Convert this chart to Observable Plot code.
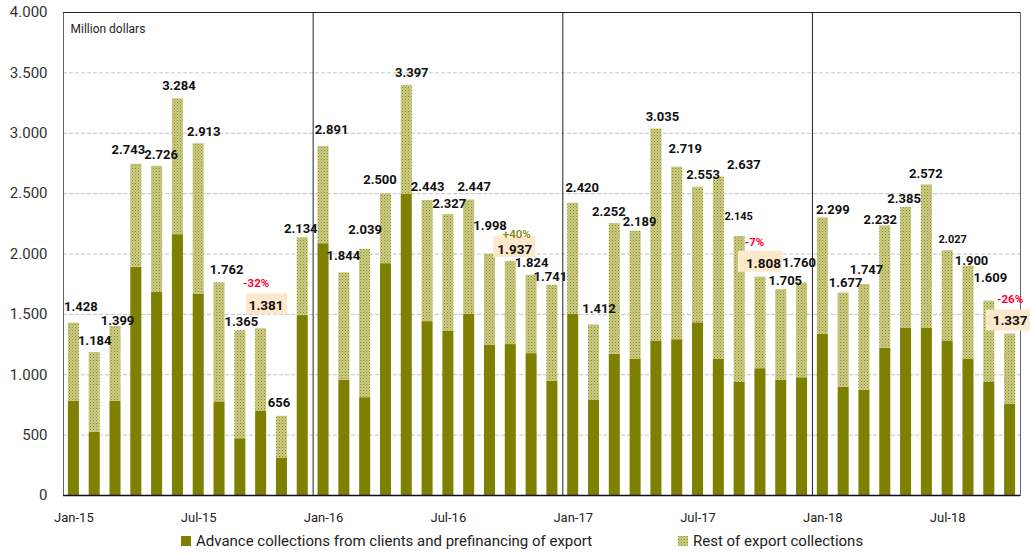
<!DOCTYPE html>
<html>
<head>
<meta charset="utf-8">
<script src="https://cdn.jsdelivr.net/npm/d3@7"></script>
<script src="https://cdn.jsdelivr.net/npm/@observablehq/plot@0.6"></script>
<style>
  html, body { margin: 0; padding: 0; background: #fff; }
  #wrap { position: relative; width: 1030px; height: 555px; font-family: Roboto, sans-serif; }
  #chart svg g[aria-label^="y-axis"] { font-size: 15px; fill: #333; }
  #chart svg g[aria-label^="x-axis"] { font-size: 13px; fill: #222; }
  .legend { position: absolute; top: 530px; left: 0; width: 1030px; height: 25px; font-size: 15px; color: #222; }
  .legend .item { position: absolute; top: 2px; display: flex; align-items: center; white-space: nowrap; }
  .legend .sw { width: 10px; height: 10px; margin-right: 5px; }
</style>
</head>
<body>
<div id="wrap">
  <div id="chart"></div>
  <div class="legend" id="legend"></div>
</div>
<script>
// Monthly export collections, million dollars
const months = [
  "Jan-15","Feb-15","Mar-15","Apr-15","May-15","Jun-15","Jul-15","Aug-15","Sep-15","Oct-15","Nov-15","Dec-15",
  "Jan-16","Feb-16","Mar-16","Apr-16","May-16","Jun-16","Jul-16","Aug-16","Sep-16","Oct-16","Nov-16","Dec-16",
  "Jan-17","Feb-17","Mar-17","Apr-17","May-17","Jun-17","Jul-17","Aug-17","Sep-17","Oct-17","Nov-17","Dec-17",
  "Jan-18","Feb-18","Mar-18","Apr-18","May-18","Jun-18","Jul-18","Aug-18","Sep-18","Oct-18"
];
// Total export collections
const totals = [
  1428,1184,1399,2743,2726,3284,2913,1762,1365,1381,656,2134,
  2891,1844,2039,2500,3397,2443,2327,2447,1998,1937,1824,1741,
  2420,1412,2252,2189,3035,2719,2553,2637,2145,1808,1705,1760,
  2299,1677,1747,2232,2385,2572,2027,1900,1609,1337
];
// Advance collections from clients and prefinancing of export
const advance = [
  780,525,780,1890,1685,2160,1665,775,470,700,310,1490,
  2085,955,810,1920,2495,1440,1360,1500,1245,1250,1175,945,
  1500,790,1170,1130,1280,1290,1430,1130,940,1050,955,975,
  1335,895,870,1220,1385,1385,1280,1130,940,755
];
const tickMonths = ["Jan-15","Jul-15","Jan-16","Jul-16","Jan-17","Jul-17","Jan-18","Jul-18"];
const yearStarts = ["Jan-16","Jan-17","Jan-18"];
const yTicks = [0,500,1000,1500,2000,2500,3000,3500,4000];
// Year-on-year change for October, shown above the highlighted totals
const octMonths = ["Oct-15","Oct-16","Oct-17","Oct-18"];
const octChange = ["-32%","+40%","-7%","-26%"];
const seriesNames = ["Advance collections from clients and prefinancing of export","Rest of export collections"];

const dark = "#7f7f00";
const fmt = v => d3.format(",")(v).replace(/,/g, ".");

const data = months.map((m, i) => ({month: m, total: totals[i], advance: advance[i]}));

// Label placement tweaks (dx, dy) so crowded labels stay readable
const nudge = [
  [7,-16],[0,-12],[2,-6],[-8,-14],[4,-12],[1,-13],[5,-12],[7,-13],[1,-9],[5,-23],[-3,-13],[-2,-9],
  [8,-17],[-1,-17],[0,-19],[-6,-14],[5,-12],[0,-14],[1,-11],[5,-13],[0,-28],[4,-12],[0,-12],[-2,-8],
  [9,-15],[5,-16],[-6,-12],[4,-9],[6,-12],[8,-18],[5,-12],[25,-12],[-1,-20],[3,-14],[4,-9],[-3,-20],
  [10,-8],[2,-10],[2,-15],[-5,-6],[-2,-9],[-1,-11],[5,-11],[3,-5],[1,-23],[0,-13]
];
const smallLabels = new Set(["Sep-17","Jul-18"]);
const boxed = new Set(octMonths);
// highlight box geometry per October: [dx, dy, width]
const boxGeom = {"Oct-15": [6,-25,41], "Oct-16": [4,-15,42], "Oct-17": [0,-16,44], "Oct-18": [-1,-14,46]};
const pctGeom = {"Oct-15": [-5,-45,"#ff0030"], "Oct-16": [6,-27,"#86860a"], "Oct-17": [-6,-35,"#ff0030"], "Oct-18": [0,-35,"#ff0030"]};

const W = 1030, ML = 63, MR = 10;
const step = (W - ML - MR) / months.length;
const bw = step * 0.53;

const labelMarks = data.map((d, i) => Plot.text([d], {
  x: "month", y: "total", text: r => fmt(r.total),
  dx: nudge[i][0], dy: nudge[i][1],
  fontWeight: "bold",
  fontSize: smallLabels.has(d.month) ? 11 : boxed.has(d.month) ? 13.5 : 13,
  fill: "#111"
}));

const boxMarks = data.filter(d => boxed.has(d.month)).map(d => {
  const [dx, dy, w] = boxGeom[d.month];
  return Plot.tickY([d], {
    x: "month", y: "total", stroke: "#fde8cc", strokeWidth: 21,
    insetLeft: -(w - bw) / 2, insetRight: -(w - bw) / 2, dx, dy
  });
});

const pctMarks = octMonths.map((m, k) => {
  const d = data.find(r => r.month === m);
  const [dx, dy, color] = pctGeom[m];
  return Plot.text([d], {
    x: "month", y: "total", text: () => octChange[k], dx, dy,
    fill: color, fontSize: 11.5, fontWeight: k === 1 ? "500" : "bold"
  });
});

const svg = Plot.plot({
  width: W,
  height: 530,
  marginLeft: ML,
  marginRight: MR,
  marginTop: 12,
  marginBottom: 35,
  style: {fontFamily: "Roboto, sans-serif", background: "#fff", overflow: "visible"},
  x: {
    domain: months, paddingInner: 0.47, paddingOuter: 0.235,
    tickSize: 0, tickPadding: 17, label: null,
    tickFormat: d => tickMonths.includes(d) ? d : null
  },
  y: {
    domain: [0, 4000], ticks: yTicks, tickSize: 0, tickPadding: 16,
    tickFormat: fmt, label: null
  },
  marks: [
    Plot.ruleY(yTicks.filter(v => v > 0 && v < 4000), {stroke: "#c4c4c4", strokeDasharray: "4,2"}),
    Plot.barY(data, {x: "month", y1: 0, y2: "advance", fill: dark}),
    Plot.barY(data, {x: "month", y1: "advance", y2: "total", fill: "url(#dots)"}),
    Plot.ruleX(yearStarts, {dx: -step / 2, stroke: "#222", strokeWidth: 1}),
    Plot.frame({stroke: "#666"}),
    Plot.ruleY([4000], {stroke: "#222"}),
    Plot.ruleY([0], {stroke: "#111", strokeWidth: 1.5}),
    ...boxMarks,
    ...labelMarks,
    ...pctMarks,
    Plot.text(["Million dollars"], {frameAnchor: "top-left", dx: 7, dy: 12, fontSize: 12, fill: "#222", textAnchor: "start"})
  ]
});

// dotted fill for the remaining collections
function addDots(sel, id) {
  const pat = sel.append("pattern").attr("id", id).attr("patternUnits", "userSpaceOnUse")
    .attr("width", 3).attr("height", 3);
  pat.append("rect").attr("width", 3).attr("height", 3).attr("fill", "#cbcb86");
  pat.append("rect").attr("x", 0).attr("y", 0).attr("width", 1).attr("height", 1).attr("fill", "#8c8c24");
  pat.append("rect").attr("x", 1.5).attr("y", 1.5).attr("width", 1).attr("height", 1).attr("fill", "#a4a448");
}
addDots(d3.select(svg).insert("defs", ":first-child"), "dots");

document.getElementById("chart").appendChild(svg);

// legend
const legend = d3.select("#legend");
const items = [
  {name: seriesNames[0], left: 181},
  {name: seriesNames[1], left: 678}
];
items.forEach((it, i) => {
  const el = legend.append("div").attr("class", "item").style("left", it.left + "px");
  if (i === 0) {
    el.append("div").attr("class", "sw").style("background", dark);
  } else {
    const s = el.append("svg").attr("width", 10).attr("height", 10).style("margin-right", "5px");
    addDots(s.append("defs"), "legdots");
    s.append("rect").attr("width", 10).attr("height", 10).attr("fill", "url(#legdots)");
  }
  el.append("span").text(it.name);
});
</script>
</body>
</html>
